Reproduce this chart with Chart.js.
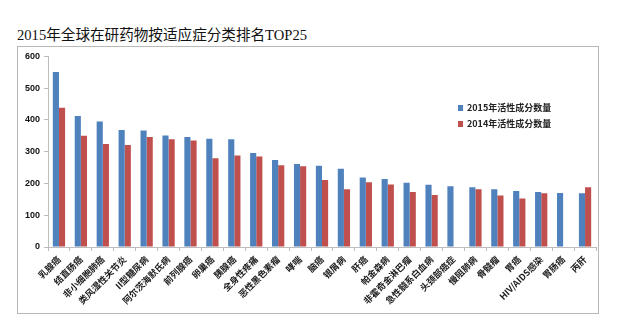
<!DOCTYPE html>
<html lang="zh">
<head>
    <meta charset="UTF-8">
    <title>2015年全球在研药物按适应症分类排名TOP25</title>
    <script src="https://cdn.jsdelivr.net/npm/chart.js"></script>
    <style>
        body {
            margin: 0;
            padding: 0;
            background-color: #ffffff;
            width: 640px;
            height: 328px;
            overflow: hidden;
            position: relative;
        }

        .title {
            position: absolute;
            left: 17px;
            top: 23px;
            font-family: "Liberation Serif", "Noto Sans CJK SC", serif;
            font-size: 14.6px;
            color: #111;
            white-space: nowrap;
        }

        .box {
            position: absolute;
            left: 17px;
            top: 46px;
            width: 580px;
            height: 266px;
            border: 1px solid #b8b8b8;
        }
    </style>
</head>
<body>
    <div class="title">2015年全球在研药物按适应症分类排名TOP25</div>
    <div class="box">
        <canvas id="myChart" width="580" height="266"></canvas>
    </div>

    <script>
        // categories (x axis)
        var diseases = ['乳腺癌', '结直肠癌', '非小细胞肺癌', '类风湿性关节炎', 'II型糖尿病',
            '阿尔茨海默氏病', '前列腺癌', '卵巢癌', '胰腺癌', '全身性疼痛',
            '恶性黑色素瘤', '哮喘', '脑癌', '银屑病', '肝癌',
            '帕金森病', '非霍奇金淋巴瘤', '急性髓系白血病', '头颈部癌症', '慢阻肺病',
            '骨髓瘤', '胃癌', 'HIV/AIDS感染', '胃肠癌', '丙肝'];

        // series values
        var count2015 = [551, 412, 395, 368, 367, 351, 346, 341, 339, 296,
            274, 261, 256, 246, 219, 214, 202, 196, 191, 188,
            182, 176, 173, 170, 169];
        var count2014 = [438, 350, 324, 321, 346, 339, 335, 279, 288, 285,
            257, 254, 211, 182, 204, 197, 173, 164, null, 182,
            162, 153, 169, null, 188];

        var seriesNames = ['2015年活性成分数量', '2014年活性成分数量'];
        var yTicks = [0, 100, 200, 300, 400, 500, 600];

        // simple legend drawn inside the plot, like the Excel one
        var boxLegend = {
            id: 'boxLegend',
            afterDraw: function (chart) {
                var c = chart.ctx;
                var x = 440, y = 61;
                c.save();
                c.font = 'bold 9px "Noto Sans CJK SC", Arial, sans-serif';
                c.textBaseline = 'middle';
                chart.data.datasets.forEach(function (ds, i) {
                    var yy = y + i * 16;
                    c.fillStyle = ds.backgroundColor;
                    c.fillRect(x, yy - 3, 5, 6);
                    c.fillStyle = '#222';
                    c.fillText(ds.label, x + 9, yy);
                });
                c.restore();
            }
        };

        var ctx = document.getElementById('myChart').getContext('2d');
        var myChart = new Chart(ctx, {
            type: 'bar',
            data: {
                labels: diseases,
                datasets: [{
                    label: seriesNames[0],
                    data: count2015,
                    backgroundColor: '#4F81BD'
                }, {
                    label: seriesNames[1],
                    data: count2014,
                    backgroundColor: '#C0504D'
                }]
            },
            options: {
                responsive: false,
                animation: false,
                layout: {
                    padding: { top: 9, right: 2, left: 0, bottom: 0 }
                },
                categoryPercentage: 0.56,
                barPercentage: 1.0,
                plugins: {
                    legend: { display: false },
                    tooltip: { enabled: false }
                },
                scales: {
                    x: {
                        grid: {
                            drawOnChartArea: false,
                            color: '#bdbdbd',
                            tickLength: 4
                        },
                        border: { color: '#bdbdbd' },
                        ticks: {
                            autoSkip: false,
                            minRotation: 45,
                            maxRotation: 45,
                            padding: 3,
                            color: '#1a1a1a',
                            font: { size: 9, weight: 'bold', family: '"Noto Sans CJK SC", Arial, sans-serif' }
                        },
                        afterFit: function (scale) {
                            scale.height = 66;
                        }
                    },
                    y: {
                        min: 0,
                        max: 600,
                        afterBuildTicks: function (scale) {
                            scale.ticks = yTicks.map(function (v) { return { value: v }; });
                        },
                        grid: {
                            drawOnChartArea: false,
                            color: '#bdbdbd',
                            tickLength: 4
                        },
                        border: { color: '#bdbdbd' },
                        ticks: {
                            padding: 4,
                            color: '#111',
                            font: { size: 9, weight: 'bold', family: 'Arial, "Liberation Sans", sans-serif' }
                        },
                        afterFit: function (scale) {
                            scale.width = 30;
                        }
                    }
                }
            },
            plugins: [boxLegend]
        });
    </script>
</body>
</html>
